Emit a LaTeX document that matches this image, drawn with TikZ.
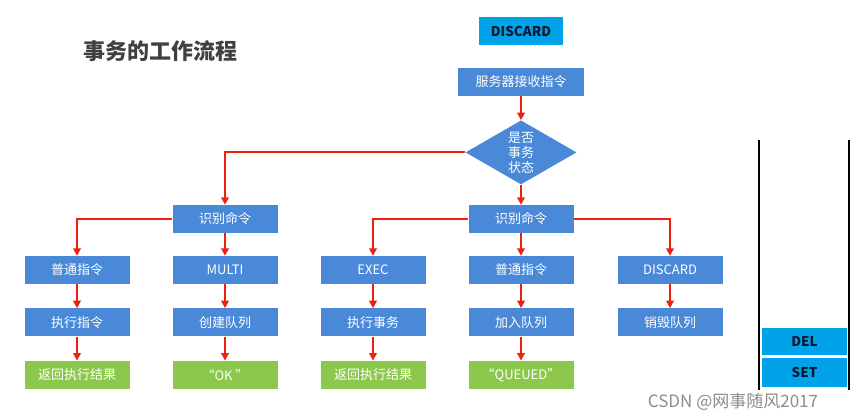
\documentclass[tikz,border=0pt]{standalone}
\usepackage{fontspec}
\setmainfont{Noto Sans CJK SC}
\usetikzlibrary{arrows.meta,positioning,shapes.geometric}
\definecolor{flblue}{HTML}{4A89D8}
\definecolor{flgreen}{HTML}{8CC84B}
\definecolor{flcyan}{HTML}{00A2E8}
\definecolor{flred}{HTML}{F0200F}
\definecolor{flink}{HTML}{0B1A33}
\tikzset{
  fl/box/.style={fill=flblue, text=white, minimum width=105pt, minimum height=28pt, inner sep=0pt, align=center, font=\fontsize{13}{15}\selectfont},
  fl/result/.style={fl/box, fill=flgreen},
  fl/decision/.style={diamond, fill=flblue, text=white, aspect=1.73, inner sep=0pt, minimum width=111pt, minimum height=64pt, align=center, font=\fontsize{13}{15}\selectfont},
  fl/cell/.style={fill=flcyan, text=flink, inner sep=0pt, align=center, font=\bfseries\fontsize{13.5}{15}\selectfont},
  fl/arrow/.style={draw=flred, line width=2pt, -{Triangle[length=7.5pt,width=7.5pt]}},
  fl/wall/.style={draw=black, line width=2.2pt}
}

\begin{document}
\begin{tikzpicture}[x=1pt, y=-1pt, node distance=24pt and 24pt]
  \useasboundingbox (0,0) rectangle (859,420);
  \node[text=black!75, font=\bfseries\fontsize{22}{26}\selectfont] (title) at (160,51) {事务的工作流程};
  \node[fl/cell, minimum width=84pt, minimum height=28pt] (topdiscard) at (521,31) {DISCARD};

  \node[fl/box, minimum width=126pt] (recv) at (521,82) {服务器接收指令};
  \node[fl/decision, below=24pt of recv] (state) {是否\\事务\\状态};
  \node[fl/box] (ident2) at (521,219) {识别命令};
  \node[fl/box] (ident1) at (225,219) {识别命令};

  % left branch
  \node[fl/box] (plain1) at (77,270) {普通指令};
  \node[fl/box, below=of plain1] (run1) {执行指令};
  \node[fl/result, below=of run1] (ret1) {返回执行结果};
  \node[fl/box] (multi) at (225,270) {MULTI};
  \node[fl/box, below=of multi] (create) {创建队列};
  \node[fl/result, below=of create] (ok) {“OK ”};

  % right branch
  \node[fl/box] (exec) at (373,270) {EXEC};
  \node[fl/box, below=of exec] (runtx) {执行事务};
  \node[fl/result, below=of runtx] (ret2) {返回执行结果};
  \node[fl/box] (plain2) at (521,270) {普通指令};
  \node[fl/box, below=of plain2] (enqueue) {加入队列};
  \node[fl/result, below=of enqueue] (queued) {“QUEUED”};
  \node[fl/box] (discard) at (670,270) {DISCARD};
  \node[fl/box, below=of discard] (destroy) {销毁队列};

  \draw[fl/arrow] (recv) -- (state);
  \draw[fl/arrow] (state.west) -| (ident1);
  \draw[fl/arrow] (state) -- (ident2);
  \draw[fl/arrow] (ident1.west) -| (plain1);
  \draw[fl/arrow] (ident1) -- (multi);
  \draw[fl/arrow] (plain1) -- (run1);
  \draw[fl/arrow] (run1) -- (ret1);
  \draw[fl/arrow] (multi) -- (create);
  \draw[fl/arrow] (create) -- (ok);
  \draw[fl/arrow] (ident2.west) -| (exec);
  \draw[fl/arrow] (ident2) -- (plain2);
  \draw[fl/arrow] (ident2.east) -| (discard);
  \draw[fl/arrow] (exec) -- (runtx);
  \draw[fl/arrow] (runtx) -- (ret2);
  \draw[fl/arrow] (plain2) -- (enqueue);
  \draw[fl/arrow] (enqueue) -- (queued);
  \draw[fl/arrow] (discard) -- (destroy);

  % queue stack
  \draw[fl/wall] (759,140) -- (759,390);
  \draw[fl/wall] (849,140) -- (849,390);
  \node[fl/cell, minimum width=85pt, minimum height=27pt] (del) at (804.5,341.5) {DEL};
  \node[fl/cell, minimum width=85pt, minimum height=29pt] (set) at (804.5,372.5) {SET};

  \node[text=black!45, font=\fontsize{17}{20}\selectfont] (mark) at (733,402) {CSDN @网事随风2017};
\end{tikzpicture}
\end{document}
